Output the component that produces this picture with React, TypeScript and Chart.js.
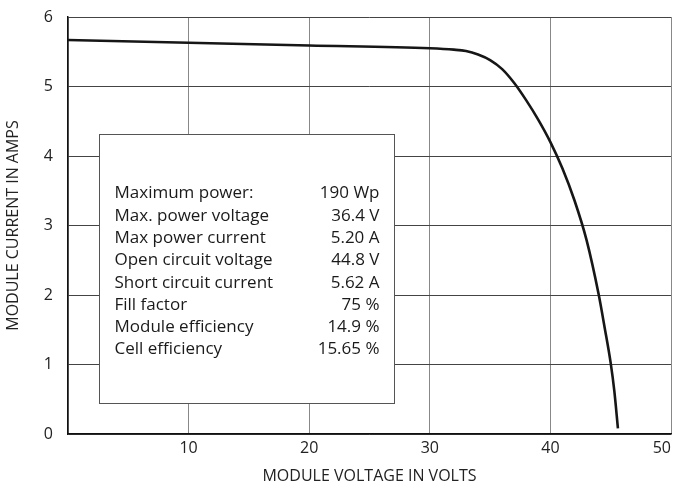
import { useEffect, useRef } from 'react';
import { Chart, registerables } from 'chart.js';

Chart.register(...registerables);

// I-V curve of the module (volts, amps)
const voltage = [0, 10, 20, 30, 32, 33, 34, 35, 36, 37, 38, 39, 40, 41, 42, 43, 44, 44.5, 45, 45.3, 45.6];
const current = [5.67, 5.63, 5.59, 5.55, 5.53, 5.51, 5.46, 5.38, 5.25, 5.05, 4.8, 4.52, 4.2, 3.82, 3.36, 2.79, 2.01, 1.53, 1.02, 0.62, 0.08];

const xMin = 0;
const xMax = 50;
const xStep = 10;
const yMin = 0;
const yMax = 6;
const yStep = 1;

const xTitle = 'MODULE VOLTAGE IN VOLTS';
const yTitle = 'MODULE CURRENT IN AMPS';

const boxLabels = [
  'Maximum power:',
  'Max. power voltage',
  'Max power current',
  'Open circuit voltage',
  'Short circuit current',
  'Fill factor',
  'Module efficiency',
  'Cell efficiency',
];
const boxValues = ['190 Wp', '36.4 V', '5.20 A', '44.8 V', '5.62 A', '75 %', '14.9 %', '15.65 %'];

const FONT = '"Open Sans", "Noto Sans", sans-serif';

const infoBox = {
  id: 'infoBox',
  afterDatasetsDraw(chart: any) {
    const { ctx } = chart;
    const x = chart.scales.x;
    const y = chart.scales.y;
    const l = Math.round(x.getPixelForValue(2.6)) + 0.5;
    const r = Math.round(x.getPixelForValue(27)) + 0.5;
    const t = Math.round(y.getPixelForValue(4.31)) + 0.5;
    const b = Math.round(y.getPixelForValue(0.44)) + 0.5;
    ctx.save();
    ctx.fillStyle = '#ffffff';
    ctx.fillRect(l, t, r - l, b - t);
    ctx.strokeStyle = '#555555';
    ctx.lineWidth = 1;
    ctx.strokeRect(l, t, r - l, b - t);
    ctx.font = '17px ' + FONT;
    ctx.fillStyle = '#1a1a1a';
    ctx.textBaseline = 'middle';
    const rowH = 22.3;
    const y0 = t + 59;
    boxLabels.forEach((lab, i) => {
      ctx.textAlign = 'left';
      ctx.fillText(lab, l + 15, y0 + i * rowH);
      ctx.textAlign = 'right';
      ctx.fillText(boxValues[i], r - 15, y0 + i * rowH);
    });
    ctx.restore();
  },
};

export default function App() {
  const ref = useRef<HTMLCanvasElement | null>(null);

  useEffect(() => {
    if (!ref.current) return;
    const chart = new Chart(ref.current, {
      type: 'line',
      data: {
        datasets: [
          {
            data: voltage.map((v, i) => ({ x: v, y: current[i] })),
            borderColor: '#161616',
            borderWidth: 2.6,
            pointRadius: 0,
            fill: false,
            cubicInterpolationMode: 'monotone',
          },
        ],
      },
      options: {
        animation: false,
        responsive: true,
        maintainAspectRatio: false,
        layout: { padding: { top: 17, right: 5, left: 0, bottom: 0 } },
        plugins: { legend: { display: false }, tooltip: { enabled: false } },
        scales: {
          x: {
            type: 'linear',
            min: xMin,
            max: xMax,
            afterFit: (s: any) => {
              s.height = 54;
              s.paddingRight = 0;
              s.paddingLeft = 0;
            },
            ticks: {
              stepSize: xStep,
              padding: 5,
              align: 'inner',
              color: '#222',
              font: { family: FONT, size: 16 },
              callback: (v: any) => (v === 0 ? '' : String(v)),
            },
            grid: { color: '#888888', lineWidth: 1, drawTicks: false },
            border: { color: '#111111', width: 1.5 },
            title: {
              display: true,
              text: xTitle,
              color: '#222',
              font: { family: FONT, size: 16 },
              padding: { top: 0, bottom: 2 },
            },
          },
          y: {
            min: yMin,
            max: yMax,
            afterFit: (s: any) => {
              s.width = 68;
              s.paddingTop = 0;
              s.paddingBottom = 0;
            },
            ticks: {
              stepSize: yStep,
              padding: 15,
              color: '#222',
              font: { family: FONT, size: 16 },
            },
            grid: { color: '#444444', lineWidth: 1, drawTicks: false },
            border: { color: '#111111', width: 1.5 },
            title: {
              display: true,
              text: yTitle,
              color: '#222',
              font: { family: FONT, size: 16 },
              padding: { top: 4, bottom: 0 },
            },
          },
        },
      },
      plugins: [infoBox],
    } as any);
    return () => chart.destroy();
  }, []);

  return (
    <div style={{ position: 'fixed', left: 0, top: 0, width: 676, height: 488, background: '#fff' }}>
      <canvas ref={ref} />
    </div>
  );
}
